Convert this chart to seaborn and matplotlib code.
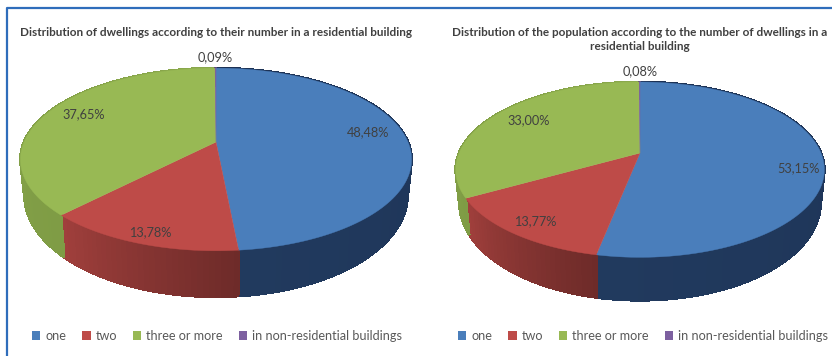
import numpy as np
import matplotlib
matplotlib.use("Agg")
import matplotlib.pyplot as plt
from matplotlib.patches import Patch
import seaborn as sns

categories = ["one", "two", "three or more", "in non-residential buildings"]
dwellings = [48.48, 13.78, 37.65, 0.09]
population = [53.15, 13.77, 33.00, 0.08]
dwellings_labels = ["48,48%", "13,78%", "37,65%", "0,09%"]
population_labels = ["53,15%", "13,77%", "33,00%", "0,08%"]
title_left = "Distribution of dwellings according to their number in a residential building"
title_right = "Distribution of the population according to the number of dwellings in a\nresidential building"

sns.set_theme(style="white")
plt.rcParams["font.family"] = ["Lato", "DejaVu Sans"]
top_colors = sns.color_palette(["#4a7ebb", "#be4b48", "#98b954", "#7d60a0"])
wall_colors = [("#1c3154", "#213a5e"), ("#6e2b29", "#a03f3c"), ("#7f9c45", "#8aa84c"), ("#5d4778", "#5d4778")]
TEXT = "#404040"
FRAME = "#2f6dbb"
W, H = 832, 356

fig = plt.figure(figsize=(W / 100, H / 100), dpi=100)
fig.patch.set_facecolor("white")


def project(theta, g):
    u, v = np.sin(theta), np.cos(theta)
    w = 1 + g["k"] * v
    return g["cx"] + g["a"] * u / w, g["cy"] - g["b"] * v / w, v


def draw_pie(ax, values, labels, g, label_xy):
    fractions = np.asarray(values) / np.sum(values)
    edges = np.concatenate([[0], np.cumsum(fractions)]) * 2 * np.pi
    # side walls first, then the top faces
    for i in range(len(values)):
        n = max(3, int(fractions[i] * 240))
        t = np.linspace(edges[i], edges[i + 1], n + 1)
        c0 = np.array(matplotlib.colors.to_rgb(wall_colors[i][0]))
        c1 = np.array(matplotlib.colors.to_rgb(wall_colors[i][1]))
        x, y, v = project(t, g)
        xb = g["cx"] + (x - g["cx"]) * g["shrink"]
        yb = y + g["d0"] - g["d1"] * v
        for j in range(n):
            col = c0 + (c1 - c0) * j / max(n - 1, 1)
            ax.fill([x[j], x[j + 1], xb[j + 1], xb[j]],
                    [y[j], y[j + 1], yb[j + 1], yb[j]],
                    facecolor=col, edgecolor=col, lw=1.2, zorder=2, antialiased=False)
    for i in range(len(values)):
        n = max(3, int(fractions[i] * 240))
        t = np.linspace(edges[i], edges[i + 1], n + 1)
        x, y, _ = project(t, g)
        ax.fill(np.r_[g["cx"], x], np.r_[g["cy"], y], color=top_colors[i], lw=0.3, zorder=3)
    for lab, (lx, ly) in zip(labels, label_xy):
        ax.text(lx, ly, lab, ha="center", va="center", fontsize=9.2, color=TEXT, zorder=5)


def make_axes(x0, x1):
    ax = fig.add_axes([x0 / W, 0, (x1 - x0) / W, 1])
    ax.set_xlim(x0, x1)
    ax.set_ylim(H, 0)
    ax.axis("off")
    return ax


def add_legend(ax, anchor_x):
    handles = [Patch(facecolor=c, edgecolor="none") for c in top_colors]
    ax.legend(handles, categories, loc="center left", bbox_to_anchor=(anchor_x, 336),
              bbox_transform=ax.transData, ncol=4, frameon=False, fontsize=9.1,
              labelcolor="#595959", handlelength=0.65, handleheight=0.65,
              handletextpad=0.38, columnspacing=1.3, borderpad=0, borderaxespad=0)


ax1 = make_axes(0, 430)
ax2 = make_axes(430, 832)

geom1 = dict(cx=216, cy=142, a=192, b=88, k=0.191, shrink=0.98, d0=32, d1=14)
geom2 = dict(cx=640, cy=153, a=181, b=84.5, k=0.19, shrink=0.98, d0=30, d1=13)

draw_pie(ax1, dwellings, dwellings_labels, geom1, [(368, 132), (150, 232), (84, 114), (215, 57)])
draw_pie(ax2, population, population_labels, geom2, [(798, 168), (535, 221), (529, 120), (640, 71)])

ax1.set_title(title_left, x=(216 - 0) / 430, y=1 - 32 / H, va="center", fontsize=8.45,
              fontweight="bold", color=TEXT, pad=0)
ax2.set_title(title_right, x=(640 - 430) / 402, y=1 - 39.5 / H, va="center", fontsize=8.45,
              fontweight="bold", color=TEXT, pad=0, linespacing=1.25)

add_legend(ax1, 32)
add_legend(ax2, 458)

# outer frame of the figure (top and left only are visible in the crop)
fig.add_artist(plt.Line2D([7 / W, 7 / W, 1], [0, 1 - 8 / H, 1 - 8 / H],
                          transform=fig.transFigure, color=FRAME, lw=1.6))

fig.savefig("out.png", dpi=100, facecolor="white")
